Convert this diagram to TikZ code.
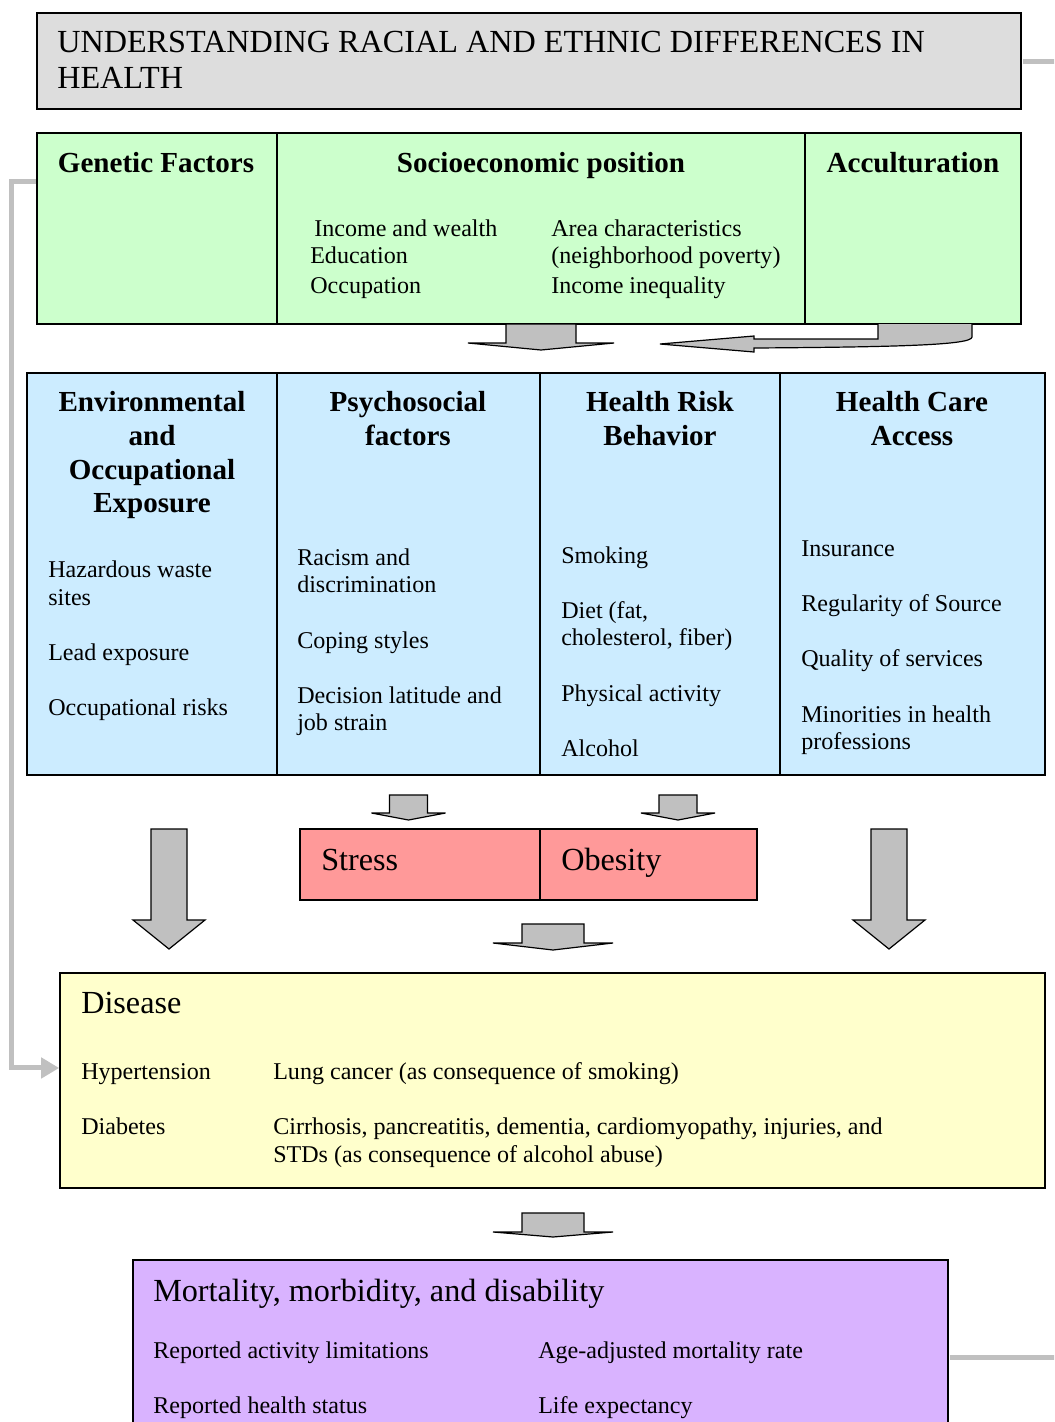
\documentclass[tikz,border=0pt]{standalone}
\usepackage{fontspec}
\setmainfont{Liberation Serif}
\usetikzlibrary{arrows.meta, positioning, fit, calc}
\definecolor{TitleGray}{HTML}{DDDDDD}
\definecolor{FactorGreen}{HTML}{CCFFCC}
\definecolor{PathBlue}{HTML}{CCECFF}
\definecolor{StressRed}{HTML}{FF9999}
\definecolor{DiseaseYellow}{HTML}{FFFFCC}
\definecolor{OutcomeLilac}{HTML}{D9B3FF}
\definecolor{ArrowGray}{HTML}{C0C0C0}

% fat downward arrow: x, top, wing y, tip y, half shaft, half head
\newcommand{\blockdown}[6]{%
  \draw[fatarrow] (#1-#5,#2) -- (#1+#5,#2) -- (#1+#5,#3) -- (#1+#6,#3) -- (#1,#4) -- (#1-#6,#3) -- (#1-#5,#3) -- cycle;}

\begin{document}
\begin{tikzpicture}[x=0.75pt, y=-0.75pt, every node/.style={inner sep=0pt}]
  \tikzset{
    box/.style={rectangle, draw=black, line width=1.2pt},
    body/.style={font=\fontsize{18.05}{21}\selectfont},
    head/.style={font=\fontsize{21.8}{25}\selectfont\bfseries},
    big/.style={font=\fontsize{24.15}{27}\selectfont},
    fatarrow/.style={draw=black, fill=ArrowGray, line width=0.9pt, line join=miter},
    link/.style={draw=ArrowGray, line width=3.75pt}
  }
  \useasboundingbox (0,0) rectangle (1054,1422);
  \clip (0,0) rectangle (1054,1422);

  % title
  \node[box, fill=TitleGray, fit={(37,13) (1021,109)}] (title) {};
  \node[big, anchor=base west] (title-1) at (57,52) {UNDERSTANDING RACIAL AND ETHNIC DIFFERENCES IN};
  \node[big, anchor=base west] (title-2) at (57,88) {HEALTH};
  \draw[link] ([xshift=0.7pt]title.east) -- ++(40,0);

  % upstream factors
  \node[box, fill=FactorGreen, fit={(37,133) (277,324)}] (genetic) {};
  \node[box, fill=FactorGreen, fit={(277,133) (805,324)}] (socio) {};
  \node[box, fill=FactorGreen, fit={(805,133) (1021,324)}] (accult) {};
  \node[head, anchor=base] (genetic-h) at (156,172) {Genetic Factors};
  \node[head, anchor=base] (socio-h) at (541,172) {Socioeconomic position};
  \node[head, anchor=base] (accult-h) at (913,172) {Acculturation};
  \foreach \t/\x/\y [count=\i] in {Income and wealth/314/236, Education/310/263, Occupation/310/293,
      Area characteristics/551/236, (neighborhood poverty)/551/263, Income inequality/551/293}
    \node[body, anchor=base west] (socio-\i) at (\x,\y) {\t};

  % arrows out of the factors
  \blockdown{541}{324}{343}{350}{35}{73}
  \draw[fatarrow] (878,324) -- (878,339) -- (754,339) -- (754,336) -- (660,344) -- (754,352) -- (754,348)
    .. controls (900,347) and (972,345) .. (972,337) -- (972,324);

  % pathways
  \node[box, fill=PathBlue, fit={(27,373) (277,775)}] (env) {};
  \node[box, fill=PathBlue, fit={(277,373) (540,775)}] (psych) {};
  \node[box, fill=PathBlue, fit={(540,373) (780,775)}] (risk) {};
  \node[box, fill=PathBlue, fit={(780,373) (1045,775)}] (care) {};
  \foreach \t/\y [count=\i] in {Environmental/411, and/445, Occupational/479, Exposure/512}
    \node[head, anchor=base] (env-h\i) at (152,\y) {\t};
  \foreach \t/\y [count=\i] in {Psychosocial/411, factors/445}
    \node[head, anchor=base] (psych-h\i) at (408,\y) {\t};
  \foreach \t/\y [count=\i] in {Health Risk/411, Behavior/445}
    \node[head, anchor=base] (risk-h\i) at (660,\y) {\t};
  \foreach \t/\y [count=\i] in {Health Care/411, Access/445}
    \node[head, anchor=base] (care-h\i) at (912,\y) {\t};

  \foreach \t/\y [count=\i] in {Hazardous waste/577, sites/605, Lead exposure/660, Occupational risks/715}
    \node[body, anchor=base west] (env-\i) at (48,\y) {\t};
  \foreach \t/\y [count=\i] in {Racism and/565, discrimination/592, Coping styles/648,
      Decision latitude and/703, job strain/730}
    \node[body, anchor=base west] (psych-\i) at (297,\y) {\t};
  \foreach \t/\y [count=\i] in {Smoking/563, {Diet (fat,}/618, {cholesterol, fiber)}/645,
      Physical activity/701, Alcohol/756}
    \node[body, anchor=base west] (risk-\i) at (561,\y) {\t};
  \foreach \t/\y [count=\i] in {Insurance/556, Regularity of Source/611, Quality of services/666,
      Minorities in health/722, professions/749}
    \node[body, anchor=base west] (care-\i) at (801,\y) {\t};

  % intermediate outcomes
  \blockdown{408.5}{795}{813}{820}{19}{37}
  \blockdown{678}{795}{813}{820}{19}{37}
  \node[box, fill=StressRed, fit={(300,829) (540,900)}] (stress) {};
  \node[box, fill=StressRed, fit={(540,829) (757,900)}] (obesity) {};
  \node[big, anchor=base west] (stress-t) at (321,870) {Stress};
  \node[big, anchor=base west] (obesity-t) at (561,870) {Obesity};
  \blockdown{169}{829}{920}{949}{18}{36}
  \blockdown{889}{829}{920}{949}{18}{36}
  \blockdown{553}{924}{943}{950}{31}{60}

  % disease
  \node[box, fill=DiseaseYellow, fit={(60,973) (1045,1188)}] (disease) {};
  \node[big, anchor=base west] (disease-h) at (81,1013) {Disease};
  \foreach \t/\x/\y [count=\i] in {Hypertension/81/1079, Diabetes/81/1134,
      Lung cancer (as consequence of smoking)/273/1079,
      {Cirrhosis, pancreatitis, dementia, cardiomyopathy, injuries, and}/273/1134,
      STDs (as consequence of alcohol abuse)/273/1162}
    \node[body, anchor=base west] (disease-\i) at (\x,\y) {\t};
  \draw[link, -{Triangle[length=13.5pt, width=15pt]}] ([yshift=-36.75pt]genetic.north west)
    -- ++(-25,0) |- ([yshift=9.4pt]disease.west);
  \blockdown{553}{1213}{1232}{1237}{31}{60}

  % mortality
  \node[box, fill=OutcomeLilac, fit={(133,1260) (948,1454)}] (mortality) {};
  \node[big, anchor=base west] (mortality-h) at (153,1301) {Mortality, morbidity, and disability};
  \foreach \t/\x/\y [count=\i] in {Reported activity limitations/153/1358, Age-adjusted mortality rate/538/1358,
      Reported health status/153/1413, Life expectancy/538/1413}
    \node[body, anchor=base west] (mortality-\i) at (\x,\y) {\t};
  \draw[link] ([xshift=0.7pt]mortality.east) -- ++(110,0);
\end{tikzpicture}
\end{document}
